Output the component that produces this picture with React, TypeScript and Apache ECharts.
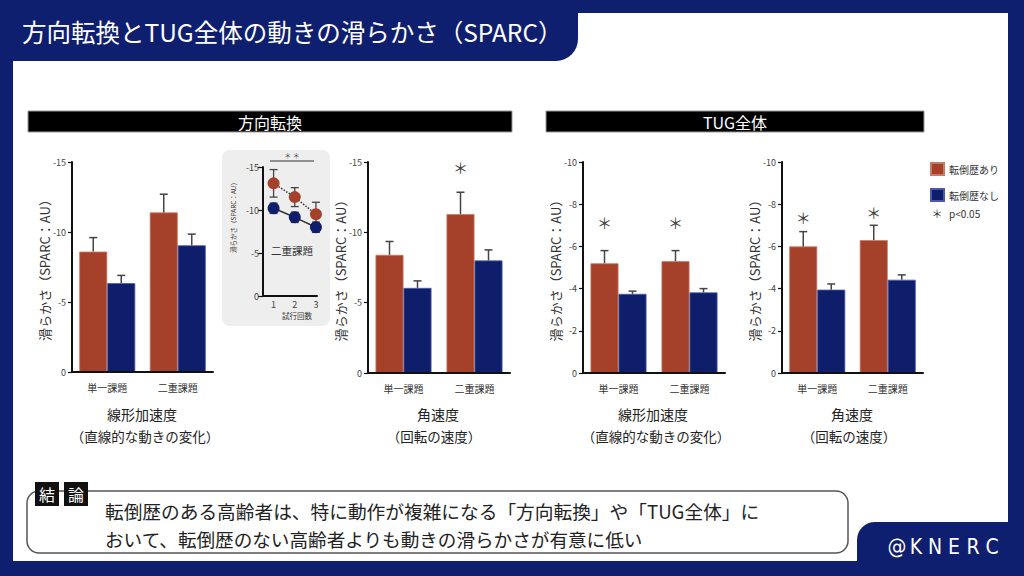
import React, { useEffect, useRef } from 'react';
import * as echarts from 'echarts';

const RED = '#a5412b';
const BLUE = '#0e1e6b';
const BG = '#0f1f6f';
const FONT = '"Noto Sans CJK JP", "Noto Sans", sans-serif';

// ---- data ----
const categories = ['単一課題', '二重課題'];
const seriesNames = ['転倒歴あり', '転倒歴なし'];

// 方向転換 線形加速度
const turnLinFall = [-8.6, -11.4];
const turnLinFallErr = [-9.6, -12.7];
const turnLinNoFall = [-6.35, -9.05];
const turnLinNoFallErr = [-6.9, -9.85];

// 方向転換 角速度
const turnAngFall = [-8.4, -11.3];
const turnAngFallErr = [-9.35, -12.85];
const turnAngNoFall = [-6.05, -8.0];
const turnAngNoFallErr = [-6.55, -8.75];
const turnAngStars = [null, -14.6];

// TUG全体 線形加速度
const tugLinFall = [-5.2, -5.3];
const tugLinFallErr = [-5.8, -5.8];
const tugLinNoFall = [-3.75, -3.82];
const tugLinNoFallErr = [-3.88, -4.0];
const tugLinStars = [-7.15, -7.15];

// TUG全体 角速度
const tugAngFall = [-6.0, -6.3];
const tugAngFallErr = [-6.7, -7.0];
const tugAngNoFall = [-3.95, -4.42];
const tugAngNoFallErr = [-4.22, -4.65];
const tugAngStars = [-7.35, -7.6];

// inset: 二重課題 試行回数
const trials = [1, 2, 3];
const dualFall = [-13.1, -11.5, -9.5];
const dualFallSd = [1.6, 1.1, 1.4];
const dualNoFall = [-10.2, -9.15, -8.0];
const dualNoFallSd = [0.6, 0.6, 0.6];

const yTicks15 = { min: -15, max: 0, interval: 5 };
const yTicks10 = { min: -10, max: 0, interval: 2 };

const brand = ['@', 'K', 'N', 'E', 'R', 'C'];

function errorBarItem(params: any, api: any) {
  const idx = api.value(0);
  const p0 = api.coord([idx, api.value(1)]);
  const p1 = api.coord([idx, api.value(2)]);
  const x = p0[0] + api.value(3) * 14;
  const style = { stroke: '#444', lineWidth: 1.5 };
  return {
    type: 'group',
    children: [
      { type: 'line', shape: { x1: x, y1: p0[1], x2: x, y2: p1[1] }, style },
      { type: 'line', shape: { x1: x - 4, y1: p1[1], x2: x + 4, y2: p1[1] }, style },
    ],
  };
}

function starItem(params: any, api: any) {
  const p = api.coord([api.value(0), api.value(1)]);
  return {
    type: 'text',
    x: p[0] - 14,
    y: p[1],
    style: { text: '＊', fontSize: 15, fill: '#444', align: 'center', verticalAlign: 'middle', fontFamily: FONT },
  };
}

function symErrItem(params: any, api: any) {
  const xv = api.value(0);
  const m = api.value(1);
  const sd = api.value(2);
  const top = api.coord([xv, m - sd]);
  const bot = api.coord([xv, m + sd]);
  const style = { stroke: '#444', lineWidth: 1.3 };
  return {
    type: 'group',
    children: [
      { type: 'line', shape: { x1: top[0], y1: top[1], x2: bot[0], y2: bot[1] }, style },
      { type: 'line', shape: { x1: top[0] - 4, y1: top[1], x2: top[0] + 4, y2: top[1] }, style },
      { type: 'line', shape: { x1: bot[0] - 4, y1: bot[1], x2: bot[0] + 4, y2: bot[1] }, style },
    ],
  };
}

function barSeries(g: number, fall: number[], fallErr: number[], nofall: number[], nofallErr: number[], stars?: (number | null)[]) {
  const errData: number[][] = [];
  categories.forEach((_, i) => errData.push([i, fall[i], fallErr[i], -1]));
  categories.forEach((_, i) => errData.push([i, nofall[i], nofallErr[i], 1]));
  const list: any[] = [
    {
      type: 'bar', name: seriesNames[0], xAxisIndex: g, yAxisIndex: g, data: fall,
      barWidth: 28, barGap: '0%',
      itemStyle: { color: RED, borderColor: '#c77a66', borderWidth: 0.8 },
    },
    {
      type: 'bar', name: seriesNames[1], xAxisIndex: g, yAxisIndex: g, data: nofall,
      barWidth: 28, barGap: '0%',
      itemStyle: { color: BLUE, borderColor: '#4a5aa8', borderWidth: 0.8 },
    },
    {
      type: 'custom', xAxisIndex: g, yAxisIndex: g, data: errData, renderItem: errorBarItem, z: 4, silent: true,
    },
  ];
  if (stars) {
    const sd: number[][] = [];
    stars.forEach((s, i) => { if (s !== null) sd.push([i, s]); });
    list.push({ type: 'custom', xAxisIndex: g, yAxisIndex: g, data: sd, renderItem: starItem, z: 4, silent: true, clip: false });
  }
  return list;
}

function catAxis(g: number) {
  return {
    type: 'category', gridIndex: g, data: categories,
    axisLine: { show: true, onZero: false, lineStyle: { color: '#111', width: 2 } },
    axisTick: { show: false },
    axisLabel: { fontSize: 10, color: '#333', margin: 10, fontFamily: FONT },
    z: 5,
  };
}

function valAxis(g: number, ticks: any, withName = true) {
  return {
    type: 'value', gridIndex: g, min: ticks.min, max: ticks.max, interval: ticks.interval, inverse: true,
    axisLine: { show: true, onZero: false, lineStyle: { color: '#111', width: 2 } },
    axisTick: { show: true, length: 4, lineStyle: { color: '#111', width: 1.2 } },
    axisLabel: { fontSize: 9, color: '#444', margin: 6, fontFamily: FONT },
    splitLine: { show: false },
    name: withName ? '滑らかさ（SPARC：AU）' : '',
    nameLocation: 'middle', nameGap: 21, nameRotate: 90, nameMoveOverlap: false,
    nameTextStyle: { fontSize: 13, color: '#333', fontFamily: FONT },
    z: 5,
  };
}

function txt(x: number, y: number, text: string, fontSize: number, fill: string, align = 'center', extra: any = {}) {
  return {
    type: 'text', x, y, z: 20,
    style: { text, fontSize, fill, align, verticalAlign: 'middle', fontFamily: FONT, ...extra },
  };
}

export default function App() {
  const ref = useRef<HTMLDivElement>(null);
  useEffect(() => {
    if (!ref.current) return;
    const chart = echarts.init(ref.current, null, { renderer: 'svg' });
    const grids = [
      { left: 72, top: 162, width: 141, height: 210 },
      { left: 263, top: 167, width: 54, height: 129 },
      { left: 368, top: 162, width: 142, height: 211 },
      { left: 583, top: 162, width: 142, height: 211 },
      { left: 782, top: 162, width: 141, height: 211 },
    ].map((g) => ({ ...g, containLabel: false, outerBoundsMode: 'none' }));

    const option: any = {
      animation: false,
      backgroundColor: BG,
      textStyle: { fontFamily: FONT },
      grid: grids,
      legend: {
        data: seriesNames, left: 930, top: 162, orient: 'vertical', icon: 'rect', padding: 0,
        itemWidth: 13, itemHeight: 12, itemGap: 12, selectedMode: false,
        textStyle: { fontSize: 10, color: '#333', fontFamily: FONT },
      },
      xAxis: [
        catAxis(0),
        {
          type: 'value', gridIndex: 1, min: 0.5, max: 3.05, interval: 0.5,
          axisLine: { show: true, onZero: false, lineStyle: { color: '#111', width: 2 } },
          axisTick: { show: false },
          axisLabel: {
            fontSize: 9, color: '#444', margin: 4, fontFamily: FONT,
            formatter: (v: number) => (Number.isInteger(v) ? String(v) : ''),
          },
          splitLine: { show: false }, z: 5,
        },
        catAxis(2), catAxis(3), catAxis(4),
      ],
      yAxis: [
        valAxis(0, yTicks15),
        {
          ...valAxis(1, yTicks15, false),
          axisTick: { show: true, length: 5, lineStyle: { color: '#111', width: 1.2 } },
          axisLabel: { fontSize: 9, color: '#444', margin: 4, fontFamily: FONT },
        },
        valAxis(2, yTicks15),
        valAxis(3, yTicks10),
        valAxis(4, yTicks10),
      ],
      series: [
        ...barSeries(0, turnLinFall, turnLinFallErr, turnLinNoFall, turnLinNoFallErr),
        ...barSeries(2, turnAngFall, turnAngFallErr, turnAngNoFall, turnAngNoFallErr, turnAngStars),
        ...barSeries(3, tugLinFall, tugLinFallErr, tugLinNoFall, tugLinNoFallErr, tugLinStars),
        ...barSeries(4, tugAngFall, tugAngFallErr, tugAngNoFall, tugAngNoFallErr, tugAngStars),
        {
          type: 'custom', xAxisIndex: 1, yAxisIndex: 1, z: 2, silent: true,
          data: trials.map((t, i) => [t, dualFall[i], dualFallSd[i]]), renderItem: symErrItem,
        },
        {
          type: 'custom', xAxisIndex: 1, yAxisIndex: 1, z: 2, silent: true,
          data: trials.map((t, i) => [t, dualNoFall[i], dualNoFallSd[i]]), renderItem: symErrItem,
        },
        {
          type: 'line', name: '転倒歴あり（二重課題）', xAxisIndex: 1, yAxisIndex: 1, z: 3,
          data: trials.map((t, i) => [t, dualFall[i]]),
          symbol: 'circle', symbolSize: 12, itemStyle: { color: RED },
          lineStyle: { color: '#333', width: 1.5, type: 'dotted' },
        },
        {
          type: 'line', name: '転倒歴なし（二重課題）', xAxisIndex: 1, yAxisIndex: 1, z: 3,
          data: trials.map((t, i) => [t, dualNoFall[i]]),
          symbol: 'circle', symbolSize: 12, itemStyle: { color: BLUE },
          lineStyle: { color: '#333', width: 1.5, type: 'solid' },
        },
      ],
      graphic: {
        elements: [
          { type: 'rect', z: -10, shape: { x: 13, y: 13, width: 995, height: 548 }, style: { fill: '#ffffff' } },
          { type: 'rect', z: -9, shape: { x: 0, y: 0, width: 578, height: 61, r: [0, 0, 22, 0] }, style: { fill: BG } },
          { type: 'rect', z: -9, shape: { x: 857, y: 522, width: 167, height: 54, r: [18, 0, 0, 0] }, style: { fill: BG } },
          txt(22, 31, '方向転換とTUG全体の動きの滑らかさ（SPARC）', 24.5, '#ffffff', 'left'),
          ...brand.map((c, i) => txt(897 + i * 19, 547, c, 21, '#ffffff', 'center', { fontFamily: 'DejaVu Sans Condensed, DejaVu Sans' })),
          // section bars
          { type: 'rect', z: 19, shape: { x: 28, y: 111, width: 484, height: 21 }, style: { fill: '#000', stroke: '#999', lineWidth: 1 } },
          txt(270, 121.5, '方向転換', 16, '#ffffff'),
          { type: 'rect', z: 19, shape: { x: 546, y: 111, width: 378, height: 21 }, style: { fill: '#000', stroke: '#999', lineWidth: 1 } },
          txt(735, 121.5, 'TUG全体', 16, '#ffffff'),
          // inset background
          { type: 'rect', z: -5, shape: { x: 222, y: 150, width: 108, height: 176, r: 8 }, style: { fill: '#eeeeee' } },
          { type: 'line', z: 20, shape: { x1: 270, y1: 161, x2: 314, y2: 161 }, style: { stroke: '#333', lineWidth: 1 } },
          txt(292, 155, '＊ ＊', 7, '#444'),
          txt(292, 250, '二重課題', 10.5, '#333'),
          txt(297, 315, '試行回数', 7.5, '#333'),
          { ...txt(233, 216, '滑らかさ（SPARC：AU）', 6.5, '#333'), rotation: Math.PI / 2 },
          // axis titles
          txt(142, 414, '線形加速度', 14, '#222'),
          txt(145, 436, '（直線的な動きの変化）', 13.5, '#222'),
          txt(438, 414, '角速度', 14, '#222'),
          txt(434, 436, '（回転の速度）', 13.5, '#222'),
          txt(653, 414, '線形加速度', 14, '#222'),
          txt(656, 436, '（直線的な動きの変化）', 13.5, '#222'),
          txt(852, 414, '角速度', 14, '#222'),
          txt(849, 436, '（回転の速度）', 13.5, '#222'),
          // legend note
          txt(937, 213, '＊', 11, '#333'),
          txt(949, 213, 'p<0.05', 10, '#333', 'left'),
          // conclusion
          { type: 'rect', z: 15, shape: { x: 27, y: 491, width: 821, height: 62, r: 12 }, style: { fill: '#ffffff', stroke: '#555', lineWidth: 1.5 } },
          { type: 'rect', z: 19, shape: { x: 35, y: 482, width: 24, height: 24 }, style: { fill: '#111' } },
          txt(47, 494, '結', 16, '#ffffff'),
          { type: 'rect', z: 19, shape: { x: 64, y: 482, width: 24, height: 24 }, style: { fill: '#111' } },
          txt(76, 494, '論', 16, '#ffffff'),
          txt(105, 510, '転倒歴のある高齢者は、特に動作が複雑になる「方向転換」や「TUG全体」に', 18.7, '#222', 'left'),
          txt(105, 538, 'おいて、転倒歴のない高齢者よりも動きの滑らかさが有意に低い', 18.6, '#222', 'left'),
        ],
      },
    };
    chart.setOption(option);
    return () => chart.dispose();
  }, []);
  return <div ref={ref} style={{ position: 'fixed', left: 0, top: 0, width: 1024, height: 576 }} />;
}
